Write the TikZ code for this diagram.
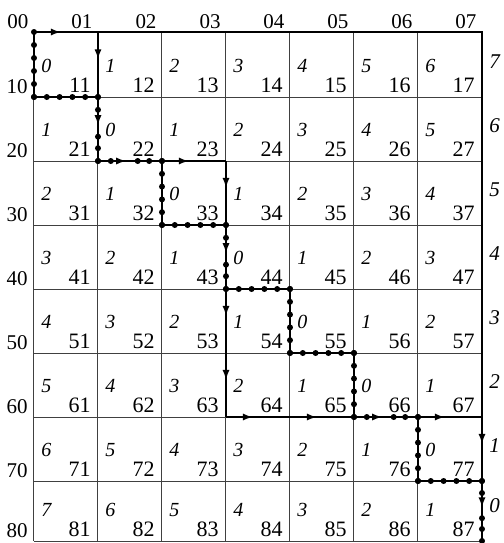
\documentclass[tikz,border=0pt]{standalone}
\usepackage{fontspec}
\setmainfont{Liberation Serif}
\usetikzlibrary{arrows.meta,decorations.markings}
\newcommand\chaindot{\fill circle[radius=1.5pt];}
\newcommand\pathtip{\arrow{Latex[length=5pt,width=3.6pt]}}
\tikzset{
  gridline/.style={line width=0.5pt, draw=black!75},
  frameline/.style={line width=0.8pt, draw=black},
  solidarrow/.style={line width=1.1pt, postaction={decorate},
    decoration={markings, mark=at position 0.42 with {\pathtip}}},
  chainline/.style={line width=1.1pt, postaction={decorate},
    decoration={markings,
      mark=at position 0 with {\chaindot},
      mark=at position 0.2 with {\chaindot},
      mark=at position 0.4 with {\chaindot},
      mark=at position 0.6 with {\chaindot},
      mark=at position 0.8 with {\chaindot},
      mark=at position 0.999 with {\chaindot}}},
  chainarrow/.style={line width=1.1pt, postaction={decorate},
    decoration={markings,
      mark=at position 0 with {\chaindot},
      mark=at position 0.2 with {\chaindot},
      mark=at position 0.44 with {\pathtip},
      mark=at position 0.62 with {\chaindot},
      mark=at position 0.8 with {\chaindot},
      mark=at position 0.999 with {\chaindot}}},
  lab/.style={font=\fontsize{10.5}{12}\selectfont, inner sep=0pt},
  cell/.style={font=\fontsize{11}{12}\selectfont, inner sep=0pt},
  val/.style={font=\fontsize{10}{12}\selectfont\itshape, inner sep=0pt},
  rval/.style={font=\fontsize{10.5}{12}\selectfont\itshape, inner sep=0pt},
}
\begin{document}
\begin{tikzpicture}[x=0.5pt,y=-0.5pt]
\useasboundingbox (0,0) rectangle (504,543);
% vertices
\foreach \r/\y in {0/32,1/97,2/161,3/225,4/289,5/353,6/417,7/481,8/541}{
  \foreach \c in {0,...,7}{
    \coordinate (v\r\c) at ({34+64*\c},\y);
  }
}
% grid
\foreach \c in {0,...,6}{ \draw[gridline] (v0\c) -- (v8\c); }
\foreach \r in {1,...,8}{ \draw[gridline] (v\r0) -- (v\r7); }
\draw[frameline] (v00) -- (v07) -- (v87);
% labels on top and left
\foreach \c in {0,...,7}{
  \node[lab, anchor=base] (k\c) at ([shift={(-16,-4)}]v0\c) {0\c};
}
\foreach \r in {1,...,8}{
  \node[lab, anchor=base] (r\r) at ([shift={(-17,-4)}]v\r0) {\r0};
}
% cell contents
\foreach \r in {1,...,8}{
  \foreach \c in {1,...,7}{
    \pgfmathtruncatemacro\vv{abs(\r-\c)}
    \node[cell, anchor=base east] (c\r\c) at ([shift={(-7,-5)}]v\r\c) {\r\c};
    \node[val, anchor=base west] (i\r\c) at ([shift={(-57,-25)}]v\r\c) {\vv};
  }
  \pgfmathtruncatemacro\ww{8-\r}
  \node[rval, anchor=base west] (e\r) at ([shift={(7,-29)}]v\r7) {\ww};
}
% solid alternative paths
\draw[solidarrow] (v00) -- (v01);
\draw[solidarrow] (v01) -- (v11);
\draw[solidarrow] (v22) -- (v23);
\draw[solidarrow] (v23) -- (v33);
\draw[solidarrow] (v43) -- (v53);
\draw[solidarrow] (v53) -- (v63);
\draw[solidarrow] (v63) -- (v64);
\draw[solidarrow] (v64) -- (v65);
\draw[solidarrow] (v66) -- (v67);
\draw[solidarrow] (v67) -- (v77);
% dotted chain path
\draw[chainline] (v00) -- (v10);
\draw[chainline] (v10) -- (v11);
\draw[chainarrow] (v11) -- (v21);
\draw[chainarrow] (v21) -- (v22);
\draw[chainline] (v22) -- (v32);
\draw[chainline] (v32) -- (v33);
\draw[chainarrow] (v33) -- (v43);
\draw[chainline] (v43) -- (v44);
\draw[chainline] (v44) -- (v54);
\draw[chainline] (v54) -- (v55);
\draw[chainline] (v55) -- (v65);
\draw[chainarrow] (v65) -- (v66);
\draw[chainline] (v66) -- (v76);
\draw[chainline] (v76) -- (v77);
\draw[chainarrow] (v77) -- (v87);
\end{tikzpicture}
\end{document}
